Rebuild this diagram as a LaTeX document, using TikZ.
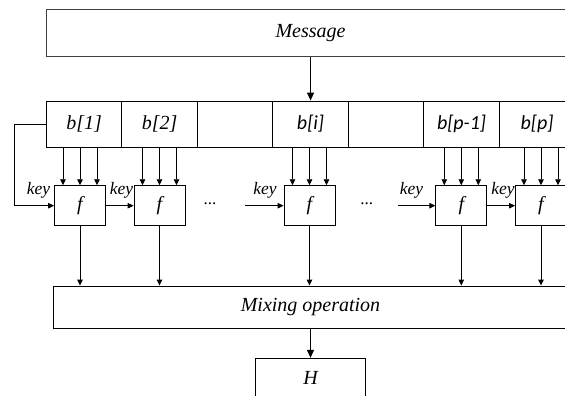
\documentclass[tikz,border=0pt]{standalone}
\usepackage{fontspec}
\setmainfont{Liberation Serif}
\newfontfamily\calfont{Carlito}
\usetikzlibrary{arrows.meta}
\tikzset{
  box/.style={draw=black, line width=0.9pt, rectangle, inner sep=0pt, font=\fontsize{20}{24}\selectfont\itshape},
  cell/.style={box, minimum width=75.5pt, minimum height=46pt},
  fbox/.style={box, minimum width=51pt, minimum height=40pt},
  arr/.style={line width=0.9pt, -{Triangle[length=6pt,width=5.5pt]}},
  bigarr/.style={line width=1.1pt, -{Triangle[length=8pt,width=7pt]}},
  keylbl/.style={inner sep=0pt, font=\fontsize{17.5}{20}\selectfont\itshape},
  dotslbl/.style={inner sep=0pt, font=\fontsize{17}{20}\selectfont}
}
\begin{document}
\begin{tikzpicture}[x=1pt, y=-1pt]
\useasboundingbox (0,0) rectangle (565,396);
\clip (0,0) rectangle (565,396);
\fill[white] (0,0) rectangle (565,396);
% message
\node[box, draw=black!75, minimum width=528.4pt, minimum height=47.7pt] (msg) at (310.5,32.85) {Message};
% blocks
\node[cell] (b1) at (84.05,124) {b[1]};
\node[cell] (b2) at (159.55,124) {b[2]};
\node[cell] (b3) at (235.05,124) {};
\node[cell] (b4) at (310.55,124) {\calfont\itshape b[i]};
\node[cell] (b5) at (386.05,124) {};
\node[cell] (b6) at (461.55,124) {\calfont\itshape b[p-1]};
\node[cell] (b7) at (537.05,124) {\calfont\itshape b[p]};
% f boxes
\node[fbox] (f1) at (80,205.7) {f};
\node[fbox] (f2) at (159.5,205.7) {f};
\node[fbox] (fi) at (309.5,205.7) {f};
\node[fbox] (fq) at (461.3,205.7) {f};
\node[fbox] (fp) at (541,205.7) {f};
% mixing and H
\node[box, minimum width=514.4pt, minimum height=42.3pt] (mix) at (310.5,307.15) {Mixing operation};
\node[box, minimum width=109.6pt, minimum height=40pt] (H) at (310.5,378.3) {H};
% message to blocks
\draw[bigarr] (msg.south -| b4) -- (b4.north);
% block to f arrows
\foreach \b/\f in {b1/f1, b2/f2, b4/fi, b6/fq, b7/fp} {
  \foreach \d in {-17,0,17} {
    \draw[arr] ([xshift=\d pt]\f.north |- \b.south) -- ([xshift=\d pt]\f.north);
  }
  \draw[arr] (\f.south) -- (\f.south |- mix.north);
}
% key chain
\coordinate (fb) at (14.7,124);
\draw[arr] (b1.west) -- (fb) |- (f1.west);
\draw[arr] (f1.east) -- (f2.west);
\coordinate (ki) at (245,205.7);
\draw[arr] (ki) -- (fi.west);
\coordinate (kq) at (398.3,205.7);
\draw[arr] (kq) -- (fq.west);
\draw[arr] (fq.east) -- (fp.west);
\node[keylbl] (k1) at (38.5,190.5) {key};
\node[keylbl] (k2) at (121.5,190.5) {key};
\node[keylbl] (k3) at (265,190.5) {key};
\node[keylbl] (k4) at (411.5,190.5) {key};
\node[keylbl] (k5) at (503,190.5) {key};
\node[dotslbl] (d1) at (210,204) {...};
\node[dotslbl] (d2) at (366.7,204) {...};
% mix to H
\draw[bigarr] (mix.south) -- (H.north);
\end{tikzpicture}
\end{document}
